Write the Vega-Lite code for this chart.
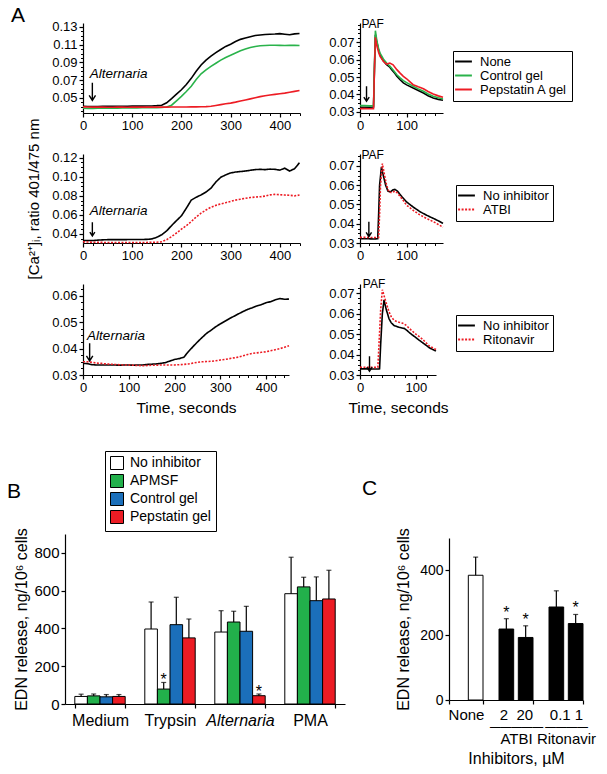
{
  "$schema": "https://vega.github.io/schema/vega-lite/v6.json",
  "padding": {"left": 7, "top": 4, "right": 5, "bottom": 5},
  "config": {
    "view": {"stroke": null},
    "font": "Liberation Sans",
    "axis": {"domainColor": "black", "tickColor": "black", "labelColor": "black", "titleColor": "black", "grid": false, "labelFont": "Liberation Sans", "titleFont": "Liberation Sans", "labelFontSize": 13, "titleFontSize": 15, "titleFontWeight": "normal", "tickSize": 4, "domainWidth": 1.2, "tickWidth": 1.2, "labelPadding": 2, "labelFlush": false, "labelOverlap": false},
    "legend": {"labelFont": "Liberation Sans", "labelColor": "black"},
    "title": {"fontSize": 21, "fontWeight": "normal", "anchor": "start", "color": "black", "font": "Liberation Sans", "frame": "group"}
  },
  "datasets": {
    "a1": [
      {"t":0,"None":0.0403,"Control gel":0.0380,"Pepstatin A gel":0.0396},
      {"t":10,"None":0.0401,"Control gel":0.0378,"Pepstatin A gel":0.0395},
      {"t":20,"None":0.0400,"Control gel":0.0379,"Pepstatin A gel":0.0394},
      {"t":30,"None":0.0401,"Control gel":0.0380,"Pepstatin A gel":0.0393},
      {"t":40,"None":0.0402,"Control gel":0.0381,"Pepstatin A gel":0.0393},
      {"t":50,"None":0.0403,"Control gel":0.0381,"Pepstatin A gel":0.0392},
      {"t":60,"None":0.0402,"Control gel":0.0382,"Pepstatin A gel":0.0392},
      {"t":70,"None":0.0403,"Control gel":0.0382,"Pepstatin A gel":0.0393},
      {"t":80,"None":0.0404,"Control gel":0.0383,"Pepstatin A gel":0.0393},
      {"t":90,"None":0.0404,"Control gel":0.0383,"Pepstatin A gel":0.0392},
      {"t":100,"None":0.0405,"Control gel":0.0384,"Pepstatin A gel":0.0393},
      {"t":110,"None":0.0405,"Control gel":0.0385,"Pepstatin A gel":0.0393},
      {"t":120,"None":0.0405,"Control gel":0.0386,"Pepstatin A gel":0.0393},
      {"t":130,"None":0.0406,"Control gel":0.0386,"Pepstatin A gel":0.0394},
      {"t":140,"None":0.0407,"Control gel":0.0387,"Pepstatin A gel":0.0394},
      {"t":150,"None":0.0410,"Control gel":0.0388,"Pepstatin A gel":0.0394},
      {"t":160,"None":0.0415,"Control gel":0.0390,"Pepstatin A gel":0.0394},
      {"t":170,"None":0.0443,"Control gel":0.0395,"Pepstatin A gel":0.0394},
      {"t":180,"None":0.0490,"Control gel":0.0415,"Pepstatin A gel":0.0395},
      {"t":190,"None":0.0540,"Control gel":0.0465,"Pepstatin A gel":0.0395},
      {"t":200,"None":0.0590,"Control gel":0.0515,"Pepstatin A gel":0.0395},
      {"t":210,"None":0.0650,"Control gel":0.0570,"Pepstatin A gel":0.0395},
      {"t":220,"None":0.0719,"Control gel":0.0630,"Pepstatin A gel":0.0396},
      {"t":230,"None":0.0800,"Control gel":0.0705,"Pepstatin A gel":0.0396},
      {"t":240,"None":0.0870,"Control gel":0.0770,"Pepstatin A gel":0.0397},
      {"t":250,"None":0.0925,"Control gel":0.0815,"Pepstatin A gel":0.0399},
      {"t":260,"None":0.0970,"Control gel":0.0855,"Pepstatin A gel":0.0403},
      {"t":270,"None":0.1010,"Control gel":0.0890,"Pepstatin A gel":0.0412},
      {"t":280,"None":0.1045,"Control gel":0.0925,"Pepstatin A gel":0.0422},
      {"t":290,"None":0.1080,"Control gel":0.0955,"Pepstatin A gel":0.0431},
      {"t":300,"None":0.1105,"Control gel":0.0980,"Pepstatin A gel":0.0439},
      {"t":310,"None":0.1135,"Control gel":0.1005,"Pepstatin A gel":0.0450},
      {"t":320,"None":0.1160,"Control gel":0.1030,"Pepstatin A gel":0.0463},
      {"t":330,"None":0.1175,"Control gel":0.1050,"Pepstatin A gel":0.0475},
      {"t":340,"None":0.1190,"Control gel":0.1068,"Pepstatin A gel":0.0487},
      {"t":350,"None":0.1203,"Control gel":0.1080,"Pepstatin A gel":0.0499},
      {"t":360,"None":0.1210,"Control gel":0.1088,"Pepstatin A gel":0.0512},
      {"t":370,"None":0.1215,"Control gel":0.1091,"Pepstatin A gel":0.0523},
      {"t":380,"None":0.1218,"Control gel":0.1093,"Pepstatin A gel":0.0531},
      {"t":390,"None":0.1220,"Control gel":0.1093,"Pepstatin A gel":0.0538},
      {"t":400,"None":0.1225,"Control gel":0.1092,"Pepstatin A gel":0.0545},
      {"t":410,"None":0.1218,"Control gel":0.1091,"Pepstatin A gel":0.0552},
      {"t":420,"None":0.1212,"Control gel":0.1093,"Pepstatin A gel":0.0562},
      {"t":430,"None":0.1222,"Control gel":0.1092,"Pepstatin A gel":0.0572},
      {"t":440,"None":0.1226,"Control gel":0.1091,"Pepstatin A gel":0.0582}
    ],
    "a2": [
      {"t":0,"No inhibitor":0.0330,"ATBI":0.0318},
      {"t":10,"No inhibitor":0.0332,"ATBI":0.0315},
      {"t":20,"No inhibitor":0.0331,"ATBI":0.0313},
      {"t":30,"No inhibitor":0.0335,"ATBI":0.0312},
      {"t":40,"No inhibitor":0.0338,"ATBI":0.0311},
      {"t":50,"No inhibitor":0.0340,"ATBI":0.0311},
      {"t":60,"No inhibitor":0.0340,"ATBI":0.0310},
      {"t":70,"No inhibitor":0.0341,"ATBI":0.0311},
      {"t":80,"No inhibitor":0.0340,"ATBI":0.0310},
      {"t":90,"No inhibitor":0.0341,"ATBI":0.0310},
      {"t":100,"No inhibitor":0.0342,"ATBI":0.0311},
      {"t":110,"No inhibitor":0.0341,"ATBI":0.0310},
      {"t":120,"No inhibitor":0.0342,"ATBI":0.0311},
      {"t":130,"No inhibitor":0.0343,"ATBI":0.0311},
      {"t":140,"No inhibitor":0.0348,"ATBI":0.0312},
      {"t":150,"No inhibitor":0.0365,"ATBI":0.0313},
      {"t":160,"No inhibitor":0.0392,"ATBI":0.0318},
      {"t":170,"No inhibitor":0.0432,"ATBI":0.0340},
      {"t":180,"No inhibitor":0.0488,"ATBI":0.0372},
      {"t":190,"No inhibitor":0.0540,"ATBI":0.0410},
      {"t":200,"No inhibitor":0.0590,"ATBI":0.0450},
      {"t":210,"No inhibitor":0.0670,"ATBI":0.0487},
      {"t":220,"No inhibitor":0.0755,"ATBI":0.0530},
      {"t":230,"No inhibitor":0.0785,"ATBI":0.0578},
      {"t":240,"No inhibitor":0.0810,"ATBI":0.0618},
      {"t":250,"No inhibitor":0.0840,"ATBI":0.0652},
      {"t":260,"No inhibitor":0.0880,"ATBI":0.0680},
      {"t":270,"No inhibitor":0.0945,"ATBI":0.0700},
      {"t":280,"No inhibitor":0.0995,"ATBI":0.0715},
      {"t":290,"No inhibitor":0.1020,"ATBI":0.0728},
      {"t":300,"No inhibitor":0.1040,"ATBI":0.0742},
      {"t":310,"No inhibitor":0.1050,"ATBI":0.0755},
      {"t":320,"No inhibitor":0.1055,"ATBI":0.0765},
      {"t":330,"No inhibitor":0.1060,"ATBI":0.0775},
      {"t":340,"No inhibitor":0.1068,"ATBI":0.0782},
      {"t":350,"No inhibitor":0.1075,"ATBI":0.0787},
      {"t":360,"No inhibitor":0.1078,"ATBI":0.0790},
      {"t":370,"No inhibitor":0.1075,"ATBI":0.0797},
      {"t":380,"No inhibitor":0.1080,"ATBI":0.0810},
      {"t":390,"No inhibitor":0.1078,"ATBI":0.0815},
      {"t":400,"No inhibitor":0.1070,"ATBI":0.0812},
      {"t":410,"No inhibitor":0.1090,"ATBI":0.0808},
      {"t":420,"No inhibitor":0.1060,"ATBI":0.0806},
      {"t":430,"No inhibitor":0.1085,"ATBI":0.0800},
      {"t":440,"No inhibitor":0.1148,"ATBI":0.0808}
    ],
    "a3": [
      {"t":0,"No inhibitor":0.0344,"Ritonavir":0.0350},
      {"t":10,"No inhibitor":0.0343,"Ritonavir":0.0350},
      {"t":20,"No inhibitor":0.0339,"Ritonavir":0.0348},
      {"t":30,"No inhibitor":0.0338,"Ritonavir":0.0345},
      {"t":40,"No inhibitor":0.0338,"Ritonavir":0.0344},
      {"t":50,"No inhibitor":0.0338,"Ritonavir":0.0342},
      {"t":60,"No inhibitor":0.0338,"Ritonavir":0.0341},
      {"t":70,"No inhibitor":0.0338,"Ritonavir":0.0340},
      {"t":80,"No inhibitor":0.0337,"Ritonavir":0.0339},
      {"t":90,"No inhibitor":0.0338,"Ritonavir":0.0338},
      {"t":100,"No inhibitor":0.0338,"Ritonavir":0.0338},
      {"t":110,"No inhibitor":0.0337,"Ritonavir":0.0337},
      {"t":120,"No inhibitor":0.0338,"Ritonavir":0.0336},
      {"t":130,"No inhibitor":0.0338,"Ritonavir":0.0335},
      {"t":140,"No inhibitor":0.0340,"Ritonavir":0.0336},
      {"t":150,"No inhibitor":0.0341,"Ritonavir":0.0337},
      {"t":160,"No inhibitor":0.0342,"Ritonavir":0.0337},
      {"t":170,"No inhibitor":0.0344,"Ritonavir":0.0338},
      {"t":180,"No inhibitor":0.0347,"Ritonavir":0.0338},
      {"t":190,"No inhibitor":0.0353,"Ritonavir":0.0338},
      {"t":200,"No inhibitor":0.0359,"Ritonavir":0.0338},
      {"t":210,"No inhibitor":0.0362,"Ritonavir":0.0339},
      {"t":220,"No inhibitor":0.0367,"Ritonavir":0.0340},
      {"t":230,"No inhibitor":0.0388,"Ritonavir":0.0342},
      {"t":240,"No inhibitor":0.0407,"Ritonavir":0.0345},
      {"t":250,"No inhibitor":0.0425,"Ritonavir":0.0348},
      {"t":260,"No inhibitor":0.0442,"Ritonavir":0.0350},
      {"t":270,"No inhibitor":0.0458,"Ritonavir":0.0351},
      {"t":280,"No inhibitor":0.0470,"Ritonavir":0.0352},
      {"t":290,"No inhibitor":0.0483,"Ritonavir":0.0354},
      {"t":300,"No inhibitor":0.0494,"Ritonavir":0.0357},
      {"t":310,"No inhibitor":0.0504,"Ritonavir":0.0359},
      {"t":320,"No inhibitor":0.0514,"Ritonavir":0.0362},
      {"t":330,"No inhibitor":0.0523,"Ritonavir":0.0365},
      {"t":340,"No inhibitor":0.0532,"Ritonavir":0.0368},
      {"t":350,"No inhibitor":0.0541,"Ritonavir":0.0373},
      {"t":360,"No inhibitor":0.0549,"Ritonavir":0.0378},
      {"t":370,"No inhibitor":0.0555,"Ritonavir":0.0382},
      {"t":380,"No inhibitor":0.0562,"Ritonavir":0.0384},
      {"t":390,"No inhibitor":0.0567,"Ritonavir":0.0386},
      {"t":400,"No inhibitor":0.0574,"Ritonavir":0.0388},
      {"t":410,"No inhibitor":0.0578,"Ritonavir":0.0392},
      {"t":420,"No inhibitor":0.0585,"Ritonavir":0.0396},
      {"t":430,"No inhibitor":0.0590,"Ritonavir":0.0400},
      {"t":440,"No inhibitor":0.0587,"Ritonavir":0.0405},
      {"t":450,"No inhibitor":0.0588,"Ritonavir":0.0411}
    ],
    "r1": [
      {"s":"None","t":0,"v":0.0327},{"s":"None","t":10,"v":0.0327},{"s":"None","t":20,"v":0.0327},{"s":"None","t":29,"v":0.0328},{"s":"None","t":31,"v":0.0550},{"s":"None","t":33,"v":0.0742},{"s":"None","t":36,"v":0.0700},{"s":"None","t":40,"v":0.0655},{"s":"None","t":43,"v":0.0628},{"s":"None","t":50,"v":0.0593},{"s":"None","t":57,"v":0.0570},{"s":"None","t":64,"v":0.0556},{"s":"None","t":68,"v":0.0542},{"s":"None","t":75,"v":0.0520},{"s":"None","t":79,"v":0.0504},{"s":"None","t":86,"v":0.0484},{"s":"None","t":93,"v":0.0466},{"s":"None","t":100,"v":0.0455},{"s":"None","t":114,"v":0.0437},{"s":"None","t":125,"v":0.0423},{"s":"None","t":136,"v":0.0408},{"s":"None","t":146,"v":0.0393},{"s":"None","t":157,"v":0.0380},{"s":"None","t":168,"v":0.0372},{"s":"None","t":178,"v":0.0367},
      {"s":"Control gel","t":0,"v":0.0336},{"s":"Control gel","t":10,"v":0.0336},{"s":"Control gel","t":20,"v":0.0335},{"s":"Control gel","t":29,"v":0.0336},{"s":"Control gel","t":31,"v":0.0560},{"s":"Control gel","t":33,"v":0.0765},{"s":"Control gel","t":36,"v":0.0710},{"s":"Control gel","t":40,"v":0.0660},{"s":"Control gel","t":43,"v":0.0637},{"s":"Control gel","t":50,"v":0.0603},{"s":"Control gel","t":57,"v":0.0580},{"s":"Control gel","t":64,"v":0.0562},{"s":"Control gel","t":71,"v":0.0540},{"s":"Control gel","t":79,"v":0.0513},{"s":"Control gel","t":86,"v":0.0495},{"s":"Control gel","t":93,"v":0.0479},{"s":"Control gel","t":100,"v":0.0468},{"s":"Control gel","t":114,"v":0.0447},{"s":"Control gel","t":125,"v":0.0432},{"s":"Control gel","t":136,"v":0.0418},{"s":"Control gel","t":146,"v":0.0403},{"s":"Control gel","t":157,"v":0.0390},{"s":"Control gel","t":168,"v":0.0381},{"s":"Control gel","t":178,"v":0.0374},
      {"s":"Pepstatin A gel","t":0,"v":0.0319},{"s":"Pepstatin A gel","t":10,"v":0.0319},{"s":"Pepstatin A gel","t":20,"v":0.0318},{"s":"Pepstatin A gel","t":29,"v":0.0319},{"s":"Pepstatin A gel","t":31,"v":0.0540},{"s":"Pepstatin A gel","t":33,"v":0.0727},{"s":"Pepstatin A gel","t":36,"v":0.0680},{"s":"Pepstatin A gel","t":40,"v":0.0640},{"s":"Pepstatin A gel","t":43,"v":0.0618},{"s":"Pepstatin A gel","t":50,"v":0.0590},{"s":"Pepstatin A gel","t":57,"v":0.0574},{"s":"Pepstatin A gel","t":64,"v":0.0580},{"s":"Pepstatin A gel","t":71,"v":0.0570},{"s":"Pepstatin A gel","t":79,"v":0.0542},{"s":"Pepstatin A gel","t":86,"v":0.0522},{"s":"Pepstatin A gel","t":93,"v":0.0504},{"s":"Pepstatin A gel","t":100,"v":0.0490},{"s":"Pepstatin A gel","t":114,"v":0.0456},{"s":"Pepstatin A gel","t":125,"v":0.0444},{"s":"Pepstatin A gel","t":136,"v":0.0433},{"s":"Pepstatin A gel","t":146,"v":0.0417},{"s":"Pepstatin A gel","t":157,"v":0.0403},{"s":"Pepstatin A gel","t":168,"v":0.0392},{"s":"Pepstatin A gel","t":178,"v":0.0384}
    ],
    "r2": [
      {"s":"No inhibitor","t":0,"v":0.0322},{"s":"No inhibitor","t":15,"v":0.0322},{"s":"No inhibitor","t":30,"v":0.0321},{"s":"No inhibitor","t":38,"v":0.0322},{"s":"No inhibitor","t":40,"v":0.0450},{"s":"No inhibitor","t":42,"v":0.0600},{"s":"No inhibitor","t":46,"v":0.0695},{"s":"No inhibitor","t":50,"v":0.0650},{"s":"No inhibitor","t":55,"v":0.0600},{"s":"No inhibitor","t":60,"v":0.0569},{"s":"No inhibitor","t":65,"v":0.0565},{"s":"No inhibitor","t":70,"v":0.0575},{"s":"No inhibitor","t":75,"v":0.0578},{"s":"No inhibitor","t":80,"v":0.0570},{"s":"No inhibitor","t":90,"v":0.0540},{"s":"No inhibitor","t":100,"v":0.0513},{"s":"No inhibitor","t":115,"v":0.0485},{"s":"No inhibitor","t":129,"v":0.0462},{"s":"No inhibitor","t":143,"v":0.0444},{"s":"No inhibitor","t":157,"v":0.0428},{"s":"No inhibitor","t":168,"v":0.0415},{"s":"No inhibitor","t":178,"v":0.0402},
      {"s":"ATBI","t":0,"v":0.0329},{"s":"ATBI","t":15,"v":0.0329},{"s":"ATBI","t":30,"v":0.0328},{"s":"ATBI","t":40,"v":0.0329},{"s":"ATBI","t":42,"v":0.0450},{"s":"ATBI","t":44,"v":0.0600},{"s":"ATBI","t":48,"v":0.0712},{"s":"ATBI","t":52,"v":0.0660},{"s":"ATBI","t":57,"v":0.0600},{"s":"ATBI","t":62,"v":0.0564},{"s":"ATBI","t":67,"v":0.0562},{"s":"ATBI","t":75,"v":0.0569},{"s":"ATBI","t":80,"v":0.0560},{"s":"ATBI","t":90,"v":0.0530},{"s":"ATBI","t":100,"v":0.0496},{"s":"ATBI","t":115,"v":0.0468},{"s":"ATBI","t":129,"v":0.0445},{"s":"ATBI","t":143,"v":0.0427},{"s":"ATBI","t":157,"v":0.0411},{"s":"ATBI","t":168,"v":0.0396},{"s":"ATBI","t":178,"v":0.0382}
    ],
    "r3": [
      {"s":"No inhibitor","t":0,"v":0.0330},{"s":"No inhibitor","t":15,"v":0.0330},{"s":"No inhibitor","t":30,"v":0.0329},{"s":"No inhibitor","t":35,"v":0.0330},{"s":"No inhibitor","t":37,"v":0.0450},{"s":"No inhibitor","t":40,"v":0.0600},{"s":"No inhibitor","t":43,"v":0.0667},{"s":"No inhibitor","t":47,"v":0.0620},{"s":"No inhibitor","t":52,"v":0.0575},{"s":"No inhibitor","t":56,"v":0.0555},{"s":"No inhibitor","t":61,"v":0.0542},{"s":"No inhibitor","t":66,"v":0.0537},{"s":"No inhibitor","t":70,"v":0.0533},{"s":"No inhibitor","t":75,"v":0.0530},{"s":"No inhibitor","t":79,"v":0.0528},{"s":"No inhibitor","t":84,"v":0.0518},{"s":"No inhibitor","t":88,"v":0.0508},{"s":"No inhibitor","t":94,"v":0.0495},{"s":"No inhibitor","t":100,"v":0.0483},{"s":"No inhibitor","t":106,"v":0.0470},{"s":"No inhibitor","t":112,"v":0.0458},{"s":"No inhibitor","t":118,"v":0.0446},{"s":"No inhibitor","t":124,"v":0.0433},{"s":"No inhibitor","t":130,"v":0.0425},{"s":"No inhibitor","t":136,"v":0.0417},
      {"s":"Ritonavir","t":0,"v":0.0338},{"s":"Ritonavir","t":15,"v":0.0338},{"s":"Ritonavir","t":30,"v":0.0337},{"s":"Ritonavir","t":32,"v":0.0338},{"s":"Ritonavir","t":34,"v":0.0450},{"s":"Ritonavir","t":37,"v":0.0620},{"s":"Ritonavir","t":40,"v":0.0717},{"s":"Ritonavir","t":46,"v":0.0660},{"s":"Ritonavir","t":52,"v":0.0608},{"s":"Ritonavir","t":56,"v":0.0585},{"s":"Ritonavir","t":61,"v":0.0567},{"s":"Ritonavir","t":66,"v":0.0562},{"s":"Ritonavir","t":70,"v":0.0558},{"s":"Ritonavir","t":75,"v":0.0554},{"s":"Ritonavir","t":79,"v":0.0550},{"s":"Ritonavir","t":84,"v":0.0540},{"s":"Ritonavir","t":88,"v":0.0528},{"s":"Ritonavir","t":94,"v":0.0514},{"s":"Ritonavir","t":100,"v":0.0500},{"s":"Ritonavir","t":106,"v":0.0488},{"s":"Ritonavir","t":112,"v":0.0475},{"s":"Ritonavir","t":118,"v":0.0458},{"s":"Ritonavir","t":124,"v":0.0442},{"s":"Ritonavir","t":130,"v":0.0433},{"s":"Ritonavir","t":136,"v":0.0425}
    ],
    "b": [
      {"cat":"Medium","inh":"No inhibitor","val":40,"hi":52},
      {"cat":"Medium","inh":"APMSF","val":43,"hi":53},
      {"cat":"Medium","inh":"Control gel","val":38,"hi":50},
      {"cat":"Medium","inh":"Pepstatin gel","val":40,"hi":50},
      {"cat":"Trypsin","inh":"No inhibitor","val":397,"hi":540},
      {"cat":"Trypsin","inh":"APMSF","val":79,"hi":114,"sig":"*"},
      {"cat":"Trypsin","inh":"Control gel","val":420,"hi":565},
      {"cat":"Trypsin","inh":"Pepstatin gel","val":350,"hi":450},
      {"cat":"Alternaria","inh":"No inhibitor","val":381,"hi":494},
      {"cat":"Alternaria","inh":"APMSF","val":434,"hi":491},
      {"cat":"Alternaria","inh":"Control gel","val":385,"hi":517},
      {"cat":"Alternaria","inh":"Pepstatin gel","val":44,"hi":53,"sig":"*"},
      {"cat":"PMA","inh":"No inhibitor","val":584,"hi":777},
      {"cat":"PMA","inh":"APMSF","val":620,"hi":671},
      {"cat":"PMA","inh":"Control gel","val":547,"hi":673},
      {"cat":"PMA","inh":"Pepstatin gel","val":556,"hi":708}
    ],
    "c": [
      {"grp":"None","sub":"b","dose":"None","val":385,"hi":441},
      {"grp":"ATBI","sub":"a","dose":"2","val":219,"hi":251,"sig":"*"},
      {"grp":"ATBI","sub":"b","dose":"20","val":193,"hi":229,"sig":"*"},
      {"grp":"Ritonavir","sub":"a","dose":"0.1","val":287,"hi":337},
      {"grp":"Ritonavir","sub":"b","dose":"1","val":236,"hi":264,"sig":"*"}
    ]
  },
  "resolve": {"scale": {"color": "independent", "strokeDash": "independent", "fill": "independent", "xOffset": "independent"}},
  "spacing": 34,
  "vconcat": [
    {
      "bounds": "flush",
      "spacing": 17,
      "resolve": {"scale": {"color": "independent", "strokeDash": "independent"}},
      "hconcat": [
        {"width": 1, "height": 1, "data": {"values": [{}]}, "mark": {"type": "point", "opacity": 0}},
        {
          "columns": 2,
          "bounds": "flush",
          "align": "each",
          "spacing": {"row": 41, "column": 60},
          "resolve": {"scale": {"color": "independent", "strokeDash": "independent"}},
          "concat": [
            {
              "width": 217, "height": 90,
              "title": {"text": "A", "dx": -72, "offset": 0, "dy": 5},
              "resolve": {"axis": {"x": "independent", "y": "independent"}},
              "layer": [
                {
                  "data": {"name": "a1"},
                  "transform": [{"fold": ["None", "Control gel", "Pepstatin A gel"], "as": ["series", "v"]}],
                  "mark": {"type": "line", "strokeWidth": 1.6},
                  "encoding": {
                    "x": {"field": "t", "type": "quantitative", "scale": {"domain": [0, 441], "nice": false}, "axis": {"values": [0, 100, 200, 300, 400], "title": null, "orient": "bottom"}},
                    "y": {"field": "v", "type": "quantitative", "scale": {"domain": [0.0327, 0.1345], "nice": false, "zero": false}, "axis": {"values": [0.05, 0.07, 0.09, 0.11, 0.13], "format": ".2f", "title": null, "orient": "left"}},
                    "color": {"field": "series", "type": "nominal", "scale": {"domain": ["None", "Control gel", "Pepstatin A gel"], "range": ["#000000", "#2ab34b", "#ed1c24"]}, "legend": null}
                  }
                },
                {
                  "data": {"values": [{"t": 13.5, "v": 0.0719, "label": "Alternaria"}]},
                  "mark": {"type": "text", "align": "left", "baseline": "alphabetic", "fontStyle": "italic", "fontSize": 13.5, "color": "black"},
                  "encoding": {
                    "x": {"field": "t", "type": "quantitative", "axis": {"orient": "bottom", "values": [20, 40, 60, 80, 120, 140, 160, 180, 220, 240, 260, 280, 320, 340, 360, 380, 420, 440], "labels": false, "domain": false, "tickSize": 2.5, "tickWidth": 1, "title": null}},
                    "y": {"field": "v", "type": "quantitative", "axis": {"orient": "left", "values": [0.035, 0.04, 0.045, 0.055, 0.06, 0.065, 0.075, 0.08, 0.085, 0.095, 0.1, 0.105, 0.115, 0.12, 0.125], "labels": false, "domain": false, "tickSize": 2.5, "tickWidth": 1, "title": null}},
                    "text": {"field": "label"}
                  }
                },
                {
                  "data": {"values": [{"t": 19, "v": 0.057}]},
                  "mark": {"type": "point", "shape": "M0,-1L0,1M-0.36,0.44L0,1L0.36,0.44", "size": 313, "filled": false, "strokeWidth": 1.4, "color": "black", "opacity": 1},
                  "encoding": {"x": {"field": "t", "type": "quantitative", "axis": null}, "y": {"field": "v", "type": "quantitative", "axis": null}}
                }
              ]
            },
            {
              "width": 83, "height": 90,
              "resolve": {"axis": {"x": "independent", "y": "independent"}},
              "layer": [
                {
                  "data": {"name": "r1"},
                  "mark": {"type": "line", "strokeWidth": 1.6},
                  "encoding": {
                    "x": {"field": "t", "type": "quantitative", "scale": {"domain": [0, 178], "nice": false}, "axis": {"values": [0, 100], "title": null, "orient": "bottom"}},
                    "y": {"field": "v", "type": "quantitative", "scale": {"domain": [0.0294, 0.0809], "nice": false, "zero": false}, "axis": {"values": [0.03, 0.04, 0.05, 0.06, 0.07], "format": ".2f", "title": null, "orient": "left"}},
                    "color": {"field": "s", "type": "nominal", "scale": {"domain": ["None", "Control gel", "Pepstatin A gel"], "range": ["#000000", "#2ab34b", "#ed1c24"]}, "legend": {"title": null, "orient": "none", "legendX": 93, "legendY": 28, "strokeColor": "black", "padding": 4, "symbolType": "M-2.1,0H2.1", "symbolSize": 64, "symbolStrokeWidth": 2, "labelFontSize": 13, "rowPadding": 0, "labelOffset": 10}}
                  }
                },
                {
                  "data": {"values": [{"t": 3, "v": 0.078, "label": "PAF"}]},
                  "mark": {"type": "text", "align": "left", "baseline": "alphabetic", "fontSize": 12, "color": "black"},
                  "encoding": {
                    "x": {"field": "t", "type": "quantitative", "axis": {"orient": "bottom", "values": [20, 40, 60, 80, 120, 140, 160], "labels": false, "domain": false, "tickSize": 2.5, "tickWidth": 1, "title": null}},
                    "y": {"field": "v", "type": "quantitative", "axis": {"orient": "left", "values": [0.0325, 0.035, 0.0375, 0.0425, 0.045, 0.0475, 0.0525, 0.055, 0.0575, 0.0625, 0.065, 0.0675, 0.0725, 0.075, 0.0775, 0.08], "labels": false, "domain": false, "tickSize": 2.5, "tickWidth": 1, "title": null}},
                    "text": {"field": "label"}
                  }
                },
                {
                  "data": {"values": [{"t": 14, "v": 0.0404}]},
                  "mark": {"type": "point", "shape": "M0,-1L0,1M-0.36,0.44L0,1L0.36,0.44", "size": 225, "filled": false, "strokeWidth": 1.4, "color": "black", "opacity": 1},
                  "encoding": {"x": {"field": "t", "type": "quantitative", "axis": null}, "y": {"field": "v", "type": "quantitative", "axis": null}}
                }
              ]
            },
            {
              "width": 217, "height": 89,
              "resolve": {"axis": {"x": "independent", "y": "independent"}},
              "layer": [
                {
                  "data": {"name": "a2"},
                  "transform": [{"fold": ["No inhibitor", "ATBI"], "as": ["series", "v"]}],
                  "mark": {"type": "line", "strokeWidth": 1.6},
                  "encoding": {
                    "x": {"field": "t", "type": "quantitative", "scale": {"domain": [0, 441], "nice": false}, "axis": {"values": [0, 100, 200, 300, 400], "title": null, "orient": "bottom"}},
                    "y": {"field": "v", "type": "quantitative", "scale": {"domain": [0.0305, 0.1239], "nice": false, "zero": false}, "axis": {"values": [0.04, 0.06, 0.08, 0.10, 0.12], "format": ".2f", "title": "[Ca²⁺]ᵢ, ratio 401/475 nm", "titlePadding": 10, "orient": "left"}},
                    "color": {"field": "series", "type": "nominal", "scale": {"domain": ["No inhibitor", "ATBI"], "range": ["#000000", "#ed1c24"]}, "legend": null},
                    "strokeDash": {"field": "series", "type": "nominal", "scale": {"domain": ["No inhibitor", "ATBI"], "range": [[1, 0], [2, 1.5]]}, "legend": null}
                  }
                },
                {
                  "data": {"values": [{"t": 13.5, "v": 0.060, "label": "Alternaria"}]},
                  "mark": {"type": "text", "align": "left", "baseline": "alphabetic", "fontStyle": "italic", "fontSize": 13.5, "color": "black"},
                  "encoding": {
                    "x": {"field": "t", "type": "quantitative", "axis": {"orient": "bottom", "values": [20, 40, 60, 80, 120, 140, 160, 180, 220, 240, 260, 280, 320, 340, 360, 380, 420, 440], "labels": false, "domain": false, "tickSize": 2.5, "tickWidth": 1, "title": null}},
                    "y": {"field": "v", "type": "quantitative", "axis": {"orient": "left", "values": [0.035, 0.045, 0.05, 0.055, 0.065, 0.07, 0.075, 0.085, 0.09, 0.095, 0.105, 0.11, 0.115], "labels": false, "domain": false, "tickSize": 2.5, "tickWidth": 1, "title": null}},
                    "text": {"field": "label"}
                  }
                },
                {
                  "data": {"values": [{"t": 19, "v": 0.045}]},
                  "mark": {"type": "point", "shape": "M0,-1L0,1M-0.36,0.44L0,1L0.36,0.44", "size": 190, "filled": false, "strokeWidth": 1.4, "color": "black", "opacity": 1},
                  "encoding": {"x": {"field": "t", "type": "quantitative", "axis": null}, "y": {"field": "v", "type": "quantitative", "axis": null}}
                }
              ]
            },
            {
              "width": 83, "height": 89,
              "resolve": {"axis": {"x": "independent", "y": "independent"}},
              "layer": [
                {
                  "data": {"name": "r2"},
                  "mark": {"type": "line", "strokeWidth": 1.6},
                  "encoding": {
                    "x": {"field": "t", "type": "quantitative", "scale": {"domain": [0, 178], "nice": false}, "axis": {"values": [0, 100], "title": null, "orient": "bottom"}},
                    "y": {"field": "v", "type": "quantitative", "scale": {"domain": [0.03, 0.0762], "nice": false, "zero": false}, "axis": {"values": [0.03, 0.04, 0.05, 0.06, 0.07], "format": ".2f", "title": null, "orient": "left"}},
                    "color": {"field": "s", "type": "nominal", "scale": {"domain": ["No inhibitor", "ATBI"], "range": ["#000000", "#ed1c24"]}, "legend": {"title": null, "orient": "none", "legendX": 96, "legendY": 31, "strokeColor": "black", "padding": 4, "symbolType": "M-2.1,0H2.1", "symbolSize": 64, "symbolStrokeWidth": 2, "labelFontSize": 13, "rowPadding": 0, "labelOffset": 10}},
                    "strokeDash": {"field": "s", "type": "nominal", "scale": {"domain": ["No inhibitor", "ATBI"], "range": [[1, 0], [2, 1.5]]}, "legend": {"title": null, "orient": "none", "legendX": 96, "legendY": 31, "strokeColor": "black", "padding": 4, "symbolType": "M-2.1,0H2.1", "symbolSize": 64, "symbolStrokeWidth": 2, "labelFontSize": 13, "rowPadding": 0, "labelOffset": 10}}
                  }
                },
                {
                  "data": {"values": [{"t": 3, "v": 0.0734, "label": "PAF"}]},
                  "mark": {"type": "text", "align": "left", "baseline": "alphabetic", "fontSize": 12, "color": "black"},
                  "encoding": {
                    "x": {"field": "t", "type": "quantitative", "axis": {"orient": "bottom", "values": [20, 40, 60, 80, 120, 140, 160], "labels": false, "domain": false, "tickSize": 2.5, "tickWidth": 1, "title": null}},
                    "y": {"field": "v", "type": "quantitative", "axis": {"orient": "left", "values": [0.0325, 0.035, 0.0375, 0.0425, 0.045, 0.0475, 0.0525, 0.055, 0.0575, 0.0625, 0.065, 0.0675, 0.0725, 0.075], "labels": false, "domain": false, "tickSize": 2.5, "tickWidth": 1, "title": null}},
                    "text": {"field": "label"}
                  }
                },
                {
                  "data": {"values": [{"t": 19, "v": 0.0372}]},
                  "mark": {"type": "point", "shape": "M0,-1L0,1M-0.36,0.44L0,1L0.36,0.44", "size": 225, "filled": false, "strokeWidth": 1.4, "color": "black", "opacity": 1},
                  "encoding": {"x": {"field": "t", "type": "quantitative", "axis": null}, "y": {"field": "v", "type": "quantitative", "axis": null}}
                }
              ]
            },
            {
              "width": 206, "height": 91,
              "resolve": {"axis": {"x": "independent", "y": "independent"}},
              "layer": [
                {
                  "data": {"name": "a3"},
                  "transform": [{"fold": ["No inhibitor", "Ritonavir"], "as": ["series", "v"]}],
                  "mark": {"type": "line", "strokeWidth": 1.6},
                  "encoding": {
                    "x": {"field": "t", "type": "quantitative", "scale": {"domain": [0, 450], "nice": false}, "axis": {"values": [0, 100, 200, 300, 400], "title": "Time, seconds", "titleFontSize": 15.5, "titlePadding": 6, "orient": "bottom"}},
                    "y": {"field": "v", "type": "quantitative", "scale": {"domain": [0.03, 0.0645], "nice": false, "zero": false}, "axis": {"values": [0.03, 0.04, 0.05, 0.06], "format": ".2f", "title": null, "orient": "left"}},
                    "color": {"field": "series", "type": "nominal", "scale": {"domain": ["No inhibitor", "Ritonavir"], "range": ["#000000", "#ed1c24"]}, "legend": null},
                    "strokeDash": {"field": "series", "type": "nominal", "scale": {"domain": ["No inhibitor", "Ritonavir"], "range": [[1, 0], [2, 1.5]]}, "legend": null}
                  }
                },
                {
                  "data": {"values": [{"t": 9, "v": 0.0432, "label": "Alternaria"}]},
                  "mark": {"type": "text", "align": "left", "baseline": "alphabetic", "fontStyle": "italic", "fontSize": 13.5, "color": "black"},
                  "encoding": {
                    "x": {"field": "t", "type": "quantitative", "axis": {"orient": "bottom", "values": [20, 40, 60, 80, 120, 140, 160, 180, 220, 240, 260, 280, 320, 340, 360, 380, 420, 440], "labels": false, "domain": false, "tickSize": 2.5, "tickWidth": 1, "title": null}},
                    "y": {"field": "v", "type": "quantitative", "axis": {"orient": "left", "values": [0.0325, 0.035, 0.0375, 0.0425, 0.045, 0.0475, 0.0525, 0.055, 0.0575, 0.0625], "labels": false, "domain": false, "tickSize": 2.5, "tickWidth": 1, "title": null}},
                    "text": {"field": "label"}
                  }
                },
                {
                  "data": {"values": [{"t": 14.5, "v": 0.0387}]},
                  "mark": {"type": "point", "shape": "M0,-1L0,1M-0.36,0.44L0,1L0.36,0.44", "size": 313, "filled": false, "strokeWidth": 1.4, "color": "black", "opacity": 1},
                  "encoding": {"x": {"field": "t", "type": "quantitative", "axis": null}, "y": {"field": "v", "type": "quantitative", "axis": null}}
                }
              ]
            },
            {
              "width": 76, "height": 91,
              "resolve": {"axis": {"x": "independent", "y": "independent"}},
              "layer": [
                {
                  "data": {"name": "r3"},
                  "mark": {"type": "line", "strokeWidth": 1.6},
                  "encoding": {
                    "x": {"field": "t", "type": "quantitative", "scale": {"domain": [0, 136], "nice": false}, "axis": {"values": [0, 100], "title": "Time, seconds", "titleFontSize": 15.5, "titlePadding": 6, "orient": "bottom"}},
                    "y": {"field": "v", "type": "quantitative", "scale": {"domain": [0.03, 0.0745], "nice": false, "zero": false}, "axis": {"values": [0.03, 0.04, 0.05, 0.06, 0.07], "format": ".2f", "title": null, "orient": "left"}},
                    "color": {"field": "s", "type": "nominal", "scale": {"domain": ["No inhibitor", "Ritonavir"], "range": ["#000000", "#ed1c24"]}, "legend": {"title": null, "orient": "none", "legendX": 96, "legendY": 31, "strokeColor": "black", "padding": 4, "symbolType": "M-2.1,0H2.1", "symbolSize": 64, "symbolStrokeWidth": 2, "labelFontSize": 13, "rowPadding": 0, "labelOffset": 10}},
                    "strokeDash": {"field": "s", "type": "nominal", "scale": {"domain": ["No inhibitor", "Ritonavir"], "range": [[1, 0], [2, 1.5]]}, "legend": {"title": null, "orient": "none", "legendX": 96, "legendY": 31, "strokeColor": "black", "padding": 4, "symbolType": "M-2.1,0H2.1", "symbolSize": 64, "symbolStrokeWidth": 2, "labelFontSize": 13, "rowPadding": 0, "labelOffset": 10}}
                  }
                },
                {
                  "data": {"values": [{"t": 5, "v": 0.0725, "label": "PAF"}]},
                  "mark": {"type": "text", "align": "left", "baseline": "alphabetic", "fontSize": 12, "color": "black"},
                  "encoding": {
                    "x": {"field": "t", "type": "quantitative", "axis": {"orient": "bottom", "values": [20, 40, 60, 80, 120], "labels": false, "domain": false, "tickSize": 2.5, "tickWidth": 1, "title": null}},
                    "y": {"field": "v", "type": "quantitative", "axis": {"orient": "left", "values": [0.0325, 0.035, 0.0375, 0.0425, 0.045, 0.0475, 0.0525, 0.055, 0.0575, 0.0625, 0.065, 0.0675, 0.0725], "labels": false, "domain": false, "tickSize": 2.5, "tickWidth": 1, "title": null}},
                    "text": {"field": "label"}
                  }
                },
                {
                  "data": {"values": [{"t": 17, "v": 0.0355}]},
                  "mark": {"type": "point", "shape": "M0,-1L0,1M-0.36,0.44L0,1L0.36,0.44", "size": 225, "filled": false, "strokeWidth": 1.4, "color": "black", "opacity": 1},
                  "encoding": {"x": {"field": "t", "type": "quantitative", "axis": null}, "y": {"field": "v", "type": "quantitative", "axis": null}}
                }
              ]
            }
          ]
        }
      ]
    },
    {
      "bounds": "flush",
      "spacing": 104,
      "center": true,
      "resolve": {"scale": {"fill": "independent", "xOffset": "independent"}},
      "hconcat": [
        {
          "width": 280, "height": 170,
          "title": {"text": "B", "dx": -58, "offset": 0, "dy": 51},
          "data": {"name": "b"},
          "encoding": {
            "x": {"field": "cat", "type": "nominal", "scale": {"domain": ["Medium", "Trypsin", "Alternaria", "PMA"], "paddingInner": 0.28, "paddingOuter": 0.14}, "axis": {"title": null, "labelAngle": 0, "tickBand": "extent", "labelFontSize": 16, "labelPadding": 4, "labelFontStyle": {"condition": {"test": "datum.value === 'Alternaria'", "value": "italic"}, "value": "normal"}}},
            "xOffset": {"field": "inh", "type": "nominal", "scale": {"domain": ["No inhibitor", "APMSF", "Control gel", "Pepstatin gel"], "paddingInner": 0, "paddingOuter": 0}}
          },
          "layer": [
            {
              "mark": {"type": "bar", "stroke": "black", "strokeWidth": 1},
              "encoding": {
                "y": {"field": "val", "type": "quantitative", "scale": {"domain": [0, 900], "nice": false}, "axis": {"values": [0, 200, 400, 600, 800], "title": "EDN release, ng/10⁶ cells", "titleFontSize": 16, "labelFontSize": 15, "titlePadding": 4}},
                "fill": {"field": "inh", "type": "nominal", "scale": {"domain": ["No inhibitor", "APMSF", "Control gel", "Pepstatin gel"], "range": ["#ffffff", "#22b04b", "#1b6fba", "#ec1c24"]}, "legend": {"title": null, "orient": "none", "legendX": 40, "legendY": -83, "strokeColor": "black", "padding": 5, "symbolType": "square", "symbolSize": 169, "symbolStrokeColor": "black", "symbolStrokeWidth": 1, "labelFontSize": 14, "rowPadding": 0, "labelOffset": 6}}
              }
            },
            {
              "mark": {"type": "rule", "color": "black", "strokeWidth": 1.2},
              "encoding": {"y": {"field": "val", "type": "quantitative"}, "y2": {"field": "hi"}}
            },
            {
              "mark": {"type": "tick", "color": "black", "thickness": 1.2, "size": 5},
              "encoding": {"y": {"field": "hi", "type": "quantitative"}}
            },
            {
              "transform": [{"filter": "isValid(datum.sig)"}],
              "mark": {"type": "text", "fontSize": 16, "baseline": "alphabetic", "dy": 3, "color": "black"},
              "encoding": {"y": {"field": "hi", "type": "quantitative"}, "text": {"field": "sig"}}
            }
          ]
        },
        {
          "width": 134, "height": 162,
          "title": {"text": "C", "dx": -87, "offset": 29, "dy": 0},
          "data": {"name": "c"},
          "encoding": {
            "x": {"field": "grp", "type": "nominal", "scale": {"domain": ["None", "ATBI", "Ritonavir"], "paddingInner": 0.32, "paddingOuter": 0}, "axis": {"title": "Inhibitors, µM", "titleFontSize": 16, "titlePadding": 4, "labelAngle": 0, "tickBand": "extent", "labelFontSize": 15, "labelPadding": 3, "labelLineHeight": 12, "labelExpr": "datum.value === 'None' ? 'None' : datum.value === 'ATBI' ? ['2\u00a0\u00a020', '─────', 'ATBI'] : datum.value === 'Ritonavir' ? ['0.1\u00a01', '────', 'Ritonavir'] : ''"}},
            "xOffset": {"field": "sub", "type": "nominal", "scale": {"domain": ["a", "b"], "paddingInner": 0.24, "paddingOuter": 0}}
          },
          "layer": [
            {
              "mark": {"type": "bar", "stroke": "black", "strokeWidth": 1},
              "encoding": {
                "y": {"field": "val", "type": "quantitative", "scale": {"domain": [0, 500], "nice": false}, "axis": {"values": [0, 100, 200, 300, 400, 500], "title": "EDN release, ng/10⁶ cells", "titleFontSize": 16, "labelFontSize": 14, "titlePadding": 8}},
                "fill": {"field": "grp", "type": "nominal", "scale": {"domain": ["None", "ATBI", "Ritonavir"], "range": ["#ffffff", "#000000", "#000000"]}, "legend": null}
              }
            },
            {
              "mark": {"type": "rule", "color": "black", "strokeWidth": 1.2},
              "encoding": {"y": {"field": "val", "type": "quantitative"}, "y2": {"field": "hi"}}
            },
            {
              "mark": {"type": "tick", "color": "black", "thickness": 1.2, "size": 5},
              "encoding": {"y": {"field": "hi", "type": "quantitative"}}
            },
            {
              "transform": [{"filter": "isValid(datum.sig)"}],
              "mark": {"type": "text", "fontSize": 16, "baseline": "alphabetic", "dy": -1, "color": "black"},
              "encoding": {"y": {"field": "hi", "type": "quantitative"}, "text": {"field": "sig"}}
            }
          ]
        }
      ]
    }
  ]
}
